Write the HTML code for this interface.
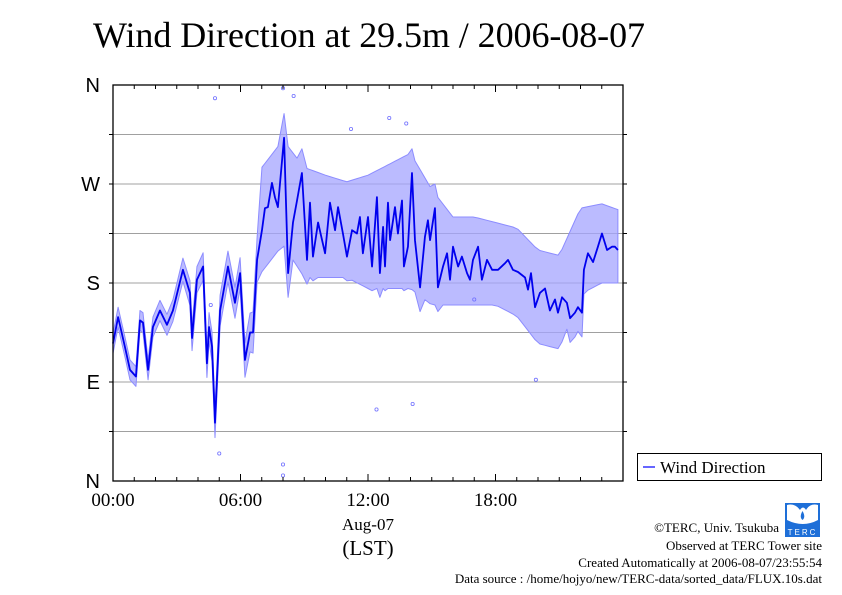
<!DOCTYPE html>
<html><head><meta charset="utf-8"><style>
body{margin:0;background:#fff;}
svg{display:block;}
.serif{font-family:"Liberation Serif",serif;}
.sans{font-family:"Liberation Sans",sans-serif;}
</style></head><body>
<svg id="chart" width="842" height="595" viewBox="0 0 842 595" xmlns="http://www.w3.org/2000/svg">
<text class="serif" x="93" y="47" font-size="36" textLength="552">Wind Direction at 29.5m / 2006-08-07</text>
<g id="grid"></g>
<g id="band"></g>
<g id="pts"></g>
<g id="line"></g>
<g id="axes"></g>
<g>
<rect x="637.5" y="453.5" width="184" height="27" fill="#fff" stroke="#000"/>
<line x1="643" y1="467" x2="655" y2="467" stroke="#0000ff" stroke-width="1.2"/>
<text class="serif" x="660" y="473" font-size="17">Wind Direction</text>
</g>
<g>
<rect x="785" y="503" width="35" height="34" fill="#1e6fd8"/>
<path d="M787 505 Q795 503 800 510 Q803 505 806 510 Q810 503 818 505 L818 520 Q803 528 787 520Z" fill="#fff"/>
<path d="M802.5 511 Q806 517 802.5 520 Q799 517 802.5 511Z" fill="#1e6fd8"/>
<text class="sans" x="802.5" y="535" font-size="8" fill="#fff" text-anchor="middle" letter-spacing="2">TERC</text>
</g>
<g class="serif" font-size="13" text-anchor="end">
<text x="779" y="532">©TERC, Univ. Tsukuba</text>
<text x="822" y="550">Observed at TERC Tower site</text>
<text x="822" y="567">Created Automatically at 2006-08-07/23:55:54</text>
<text x="822" y="583">Data source : /home/hojyo/new/TERC-data/sorted_data/FLUX.10s.dat</text>
</g>
</svg>
<script>
const times=[0,0.24,0.56,0.80,1.08,1.27,1.41,1.65,1.88,2.21,2.54,2.82,3.29,3.62,3.72,3.95,4.24,4.42,4.52,4.66,4.80,5.04,5.41,5.74,5.98,6.21,6.45,6.59,6.78,7.01,7.15,7.29,7.48,7.62,7.76,8.05,8.24,8.47,8.66,8.89,9.13,9.27,9.41,9.65,9.98,10.21,10.45,10.59,10.82,11.01,11.25,11.48,11.62,11.76,12.00,12.19,12.42,12.56,12.71,12.80,12.94,13.04,13.27,13.41,13.60,13.69,13.88,14.07,14.21,14.45,14.68,14.82,14.92,15.15,15.29,15.53,15.72,15.86,16.00,16.24,16.42,16.66,16.80,16.94,17.18,17.36,17.60,17.84,18.12,18.45,18.59,18.82,19.06,19.39,19.53,19.67,19.86,20.09,20.33,20.56,20.80,20.94,21.13,21.36,21.51,21.74,21.88,22.07,22.16,22.35,22.59,22.82,23.01,23.25,23.48,23.62,23.76];
const direction=[125,149,122,101,95,146,144,101,140,155,142,155,192,171,130,183,195,107,140,122,53,155,195,162,189,110,135,135,201,228,248,249,271,258,249,312,189,235,255,280,201,253,204,235,207,253,228,249,225,204,228,225,240,207,240,195,258,189,231,195,253,219,249,225,255,195,213,280,219,176,222,237,219,248,176,195,207,183,213,195,204,189,183,201,213,183,201,192,192,198,201,192,190,185,174,189,158,171,175,155,165,153,167,162,148,153,158,153,192,207,199,213,225,210,213,213,210];
const bandHours=[0,1,2,3,4,5,6,7,8,9,10,11,12,13,14,15,16,17,18,19,20,21,22,23,24];
const bandLow=[400,400,400,400,400,400,400,190,215,185,185,185,175,175,175,160,160,160,160,150,125,120,170,180,180];
const bandHigh=[-40,-40,-40,-40,-40,-40,-40,285,310,285,278,272,278,288,298,265,240,240,235,230,210,205,248,252,245];
const minSpread=[9,9,9,10,12,14,14,22,22,22,22,22,22,22,22,22,22,22,22,22,22,22,22,22,22];
const outHours=[4.8,8.0,8.0,8.5,11.2,13.0,13.8,4.6,8.0,14.1,17.0,19.9,12.4,5.0];
const outDir=[348,357,15,350,320,330,325,160,5,70,165,92,65,25];
const yLabels=["N","E","S","W","N"];
const xLabels=["00:00","06:00","12:00","18:00"];

const L=113,R=623,T=85,B=481;
const X=h=>L+(R-L)*h/24;
const Y=d=>B-(B-T)*d/360;
const NS="http://www.w3.org/2000/svg";
function mk(tag,attrs,parent){const e=document.createElementNS(NS,tag);for(const k in attrs)e.setAttribute(k,attrs[k]);parent.appendChild(e);return e;}
function interp(arr,h){const i=Math.min(Math.floor(h),bandHours.length-2);const f=h-bandHours[i];return arr[i]+(arr[i+1]-arr[i])*f;}

const grid=document.getElementById('grid');
for(let d=45;d<360;d+=45){
  const g=mk('line',{x1:L,x2:R,y1:Y(d),y2:Y(d),stroke:'#a0a0a0','stroke-width':1},grid);
  
  
}

const band=document.getElementById('band');
const hi=times.map((h,i)=>Math.max(direction[i]+interp(minSpread,h),interp(bandHigh,h)));
const lo=times.map((h,i)=>Math.min(direction[i]-interp(minSpread,h),interp(bandLow,h)));
let dp='M'+times.map((h,i)=>X(h)+','+Y(hi[i])).join(' L');
for(let i=times.length-1;i>=0;i--)dp+=' L'+X(times[i])+','+Y(lo[i]);
const bp=mk('path',{d:dp+'Z',fill:'#a4a4ff','fill-opacity':0.75,stroke:'#8c8cff','stroke-width':1,'stroke-linejoin':'round'},band);



const pts=document.getElementById('pts');
outHours.forEach((h,i)=>{
  const c=mk('circle',{cx:X(h),cy:Y(outDir[i]),r:1.6,fill:'none',stroke:'#7070ff','stroke-width':0.8},pts);
  
  
});

const line=document.getElementById('line');
const lp=mk('polyline',{points:times.map((h,i)=>X(h)+','+Y(direction[i])).join(' '),fill:'none',stroke:'#0000ee','stroke-width':1.8,'stroke-linejoin':'round'},line);



const ax=document.getElementById('axes');
const fr=mk('rect',{x:L,y:T,width:R-L,height:B-T,fill:'none',stroke:'#000','stroke-width':1.3},ax);


for(let h=1;h<24;h++){
  const len=h%6===0?7:4;
  mk('line',{x1:X(h),x2:X(h),y1:T,y2:T+len,stroke:'#000'},ax);
  mk('line',{x1:X(h),x2:X(h),y1:B,y2:B-len,stroke:'#000'},ax);
}
for(let d=45;d<360;d+=45){
  mk('line',{x1:L-4,x2:L,y1:Y(d),y2:Y(d),stroke:'#000'},ax);
  mk('line',{x1:R,x2:R+4,y1:Y(d),y2:Y(d),stroke:'#000'},ax);
}
yLabels.forEach((t,i)=>{
  const e=mk('text',{x:100,y:Y(i*90)+7,'font-size':20,'text-anchor':'end',class:'sans'},ax);
  e.textContent=t;
  
  
});
xLabels.forEach((t,i)=>{
  const e=mk('text',{x:X(i*6),y:506,'font-size':19,'text-anchor':'middle',class:'serif'},ax);
  e.textContent=t;
  
  
});
const d1=mk('text',{x:X(12),y:530,'font-size':17,'text-anchor':'middle',class:'serif'},ax);
d1.textContent='Aug-07';


const d2=mk('text',{x:X(12),y:555,'font-size':21,'text-anchor':'middle',class:'serif'},ax);
d2.textContent='(LST)';


</script>
</body></html>
